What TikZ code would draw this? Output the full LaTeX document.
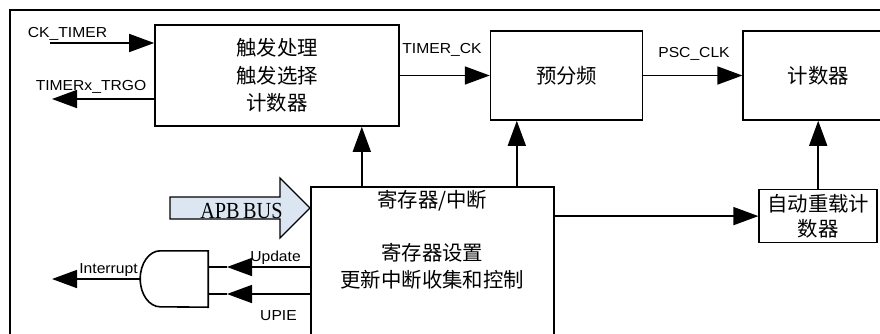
\documentclass[tikz,border=0pt]{standalone}
\usepackage{fontspec}
\setmainfont[FakeStretch=1.08]{Liberation Sans}
\newfontfamily\cjk{Noto Sans CJK SC}
\newfontfamily\apbfont[FakeStretch=0.88,WordSpace=0.7]{Liberation Serif}
\usepackage{tikz}
\usetikzlibrary{arrows.meta,positioning}
\definecolor{busblue}{HTML}{DCE6F2}

\begin{document}
\begin{tikzpicture}[x=1pt, y=-1pt, node distance=90pt, box/.style={draw,line width=1.6pt,inner sep=1pt,align=center,font=\cjk\fontsize{20.4}{27.5}\selectfont}, txt/.style={inner sep=0pt,align=center,font=\cjk\fontsize{20.4}{26.5}\selectfont}, sig/.style={inner sep=0pt,anchor=base,font=\fontsize{14.5}{16}\selectfont}, wire/.style={line width=1.6pt,-{Triangle[length=25pt,width=18pt]}}]
\useasboundingbox (0,0) rectangle (880,333);
\clip (0,0) rectangle (880,333);
\draw[line width=2pt] (10,345) -- (10,10) -- (890,10);
\node[box,minimum width=244,minimum height=101] (trig) at (277,75.5) {触发处理\\触发选择\\计数器};
\node[box,minimum width=152,minimum height=89,right=90pt of trig] (psc) {预分频};
\node[box,minimum width=150,minimum height=89,right=99pt of psc] (cnt) {计数器};
\node[box,minimum width=243,minimum height=170,anchor=north west] (reg) at (310,186) {};
\node[txt,below=4pt of reg.north] (regtitle) {寄存器/中断};
\node[txt,below=32pt of regtitle] (regbody) {寄存器设置\\更新中断收集和控制};
\node[box,minimum width=118,minimum height=53,below=68pt of cnt,font=\cjk\fontsize{20.4}{25}\selectfont] (reload) {自动重载计\\数器};
\node[minimum width=68,minimum height=56,inner sep=0pt] (gate) at (174,279) {};
\draw[line width=1.6pt] (gate.north east) -- ++(-48,0) arc[start angle=270,end angle=90,x radius=20,y radius=28] -- (gate.south east) -- cycle;
\coordinate (apbtip) at (310,208);
\draw[line width=1.2pt,fill=busblue] (apbtip) -- ++(-30,-30) -- ++(0,19) -- ++(-110,0) -- ++(0,22) -- ++(110,0) -- ++(0,19) -- cycle;
\node[inner sep=0pt,anchor=base,font=\apbfont\fontsize{23}{23}\selectfont] (apb) at (241.5,218.5) {APB BUS};
\coordinate (ckin) at (50,43);
\coordinate (trgo) at (52,99);
\coordinate (intr) at (52,279);
\coordinate (upd) at (208,267);
\coordinate (upie) at (208,294);
\node[sig] (cklbl) at (67.5,37) {CK\_TIMER};
\node[sig] (trgolbl) at (91,90) {TIMERx\_TRGO};
\node[sig] (timerlbl) at (442,53) {TIMER\_CK};
\node[sig] (psclbl) at (694,57) {PSC\_CLK};
\node[sig] (updlbl) at (275.5,261) {Update};
\node[sig] (upielbl) at (278.5,320) {UPIE};
\node[sig] (intrlbl) at (108.5,273) {Interrupt};
\draw[wire] (ckin) -- (ckin -| trig.west); \draw[wire] (trgo -| trig.west) -- (trgo);
\draw[wire] (trig.east) -- (psc.west); \draw[wire] (psc.east) -- (cnt.west);
\draw[wire] ([xshift=-70.5pt]reg.north) -- ([xshift=-70.5pt]reg.north |- trig.south);
\draw[wire] ([xshift=84.5pt]reg.north) -- ([xshift=84.5pt]reg.north |- psc.south);
\draw[wire] (reg.east |- reload.west) -- (reload.west); \draw[wire] (reload.north) -- (cnt.south);
\draw[wire] (reg.west |- upd) -- ([xshift=19pt]upd); \draw[line width=1.6pt] (upd) -- ([xshift=19pt]upd);
\draw[wire] (reg.west |- upie) -- ([xshift=19pt]upie); \draw[line width=1.6pt] (upie) -- ([xshift=19pt]upie);
\draw[wire] (gate.west) -- (intr);
\end{tikzpicture}
\end{document}
